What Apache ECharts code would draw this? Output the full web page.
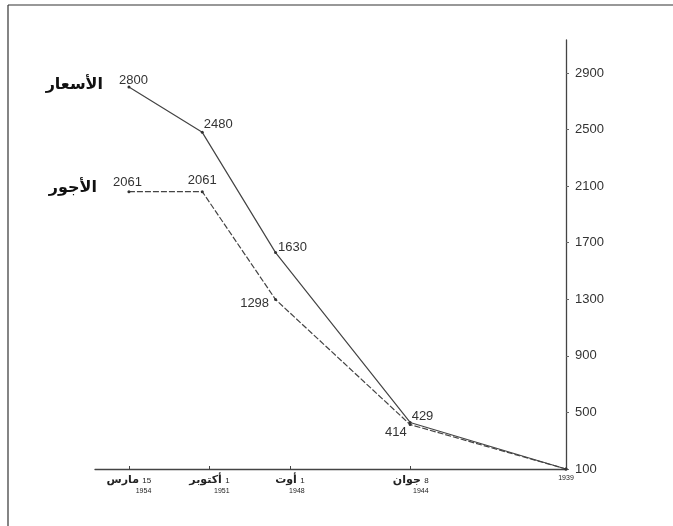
<!DOCTYPE html>
<html>
<head>
<meta charset="utf-8">
<script src="https://cdn.jsdelivr.net/npm/echarts@6/dist/echarts.min.js"></script>
<style>
html,body{margin:0;padding:0;background:#fff;}
#c{width:673px;height:526px;}
</style>
</head>
<body>
<div id="c"></div>
<script>
// ---- data ----
const tickDates  = [1954.2, 1951.4, 1948.6, 1944.4, 1939.0];
const tickDays   = ['15', '1', '1', '8', ''];
const tickMonths = ['مارس', 'أكتوبر', 'أوت', 'جوان', ''];
const tickYears  = ['1954', '1951', '1948', '1944', '1939'];
const pointX     = [1954.2, 1951.65, 1949.1, 1944.42, 1939.0];
const prices     = [2800, 2480, 1630, 429, 100];
const wages      = [2061, 2061, 1298, 414, 100];
const seriesNames = ['الأسعار', 'الأجور'];
const yTicks     = [100, 500, 900, 1300, 1700, 2100, 2500, 2900];

// ---- label placement (style) ----
const numFont = {fontFamily: 'Liberation Sans, Arial, sans-serif', fontSize: 13, color: '#333'};
const nameRich = {
  n: {fontFamily: 'DejaVu Sans', fontWeight: 'bold', fontSize: 16, color: '#111', padding: [10, 16, 0, 0]},
  v: Object.assign({}, numFont)
};
const priceLabels = [
  {show: true, position: [20.5, -5.5], align: 'right', verticalAlign: 'middle', rich: nameRich, name: 0},
  {show: true, position: 'right', distance: 0, offset: [0, -8]},
  {show: true, position: 'right', distance: 1, offset: [0, -5]},
  {show: true, position: 'right', distance: 0, offset: [0, -6]},
  {show: false}
];
const wageLabels = [
  {show: true, position: [14.5, -7.5], align: 'right', verticalAlign: 'middle', rich: nameRich, name: 1},
  {show: true, position: 'top', distance: 3, offset: [0, 0]},
  {show: true, position: 'left', distance: 5, offset: [0, 4]},
  {show: true, position: 'left', distance: 2, offset: [0, 8]},
  {show: false}
];

function buildData(values, labels) {
  return values.map((v, i) => {
    const l = labels[i];
    const item = {value: [pointX[i], v]};
    if (l.name !== undefined) {
      const nm = seriesNames[l.name];
      item.label = {
        show: true, position: l.position, align: l.align, verticalAlign: l.verticalAlign,
        rich: l.rich, formatter: '{n|' + nm + '}{v|' + v + '}'
      };
    } else {
      item.label = Object.assign({}, l, numFont, {formatter: String(v)});
    }
    return item;
  });
}

const chart = echarts.init(document.getElementById('c'), null, {renderer: 'canvas'});
const option = {
  backgroundColor: '#fff',
  animation: false,
  grid: {left: 95, right: 107, top: 40, bottom: 57},
  xAxis: {
    type: 'value',
    inverse: true,
    min: 1939,
    max: 1955.38,
    axisLine: {show: true, lineStyle: {color: '#444', width: 1.3}},
    axisTick: {show: true, inside: true, length: 3, customValues: tickDates, lineStyle: {color: '#444'}},
    splitLine: {show: false},
    axisLabel: {
      show: true,
      customValues: tickDates,
      margin: 5,
      formatter: function (val) {
        let idx = 0, best = 1e9;
        tickDates.forEach((d, i) => { if (Math.abs(d - val) < best) { best = Math.abs(d - val); idx = i; } });
        if (!tickMonths[idx]) return '{yc|' + tickYears[idx] + '}';
        return '{m|' + tickMonths[idx] + '} {d|' + tickDays[idx] + '}\n{y|' + tickYears[idx] + '}';
      },
      rich: {
        m: {fontFamily: 'DejaVu Sans', fontWeight: 'bold', fontSize: 11, color: '#222', lineHeight: 13},
        d: {fontFamily: 'Liberation Sans', fontSize: 8, color: '#222', lineHeight: 13},
        y: {fontFamily: 'Liberation Sans', fontSize: 7, color: '#222', lineHeight: 9, align: 'right'},
        yc: {fontFamily: 'Liberation Sans', fontSize: 7, color: '#222', lineHeight: 9}
      }
    }
  },
  yAxis: {
    type: 'value',
    position: 'right',
    min: 100,
    max: 3133,
    axisLine: {show: true, lineStyle: {color: '#444', width: 1.3}},
    axisTick: {show: true, length: 3, customValues: yTicks, lineStyle: {color: '#666'}},
    splitLine: {show: false},
    axisLabel: {
      show: true, customValues: yTicks, margin: 9,
      formatter: function (v) { return String(v); },
      fontFamily: 'Liberation Sans, Arial, sans-serif', fontSize: 13, color: '#333'
    }
  },
  series: [
    {
      name: seriesNames[0],
      type: 'line',
      data: buildData(prices, priceLabels),
      symbol: 'circle', symbolSize: 3,
      itemStyle: {color: '#333'},
      lineStyle: {color: '#444', width: 1.2, type: 'solid'}
    },
    {
      name: seriesNames[1],
      type: 'line',
      data: buildData(wages, wageLabels),
      symbol: 'circle', symbolSize: 3,
      itemStyle: {color: '#333'},
      lineStyle: {color: '#444', width: 1.2, type: [6, 2]}
    }
  ],
  graphic: [
    {type: 'line', shape: {x1: 8, y1: 5, x2: 673, y2: 5}, style: {stroke: '#333', lineWidth: 1.2}},
    {type: 'line', shape: {x1: 8, y1: 5, x2: 8, y2: 526}, style: {stroke: '#333', lineWidth: 1.2}}
  ]
};
chart.setOption(option);
</script>
</body>
</html>
